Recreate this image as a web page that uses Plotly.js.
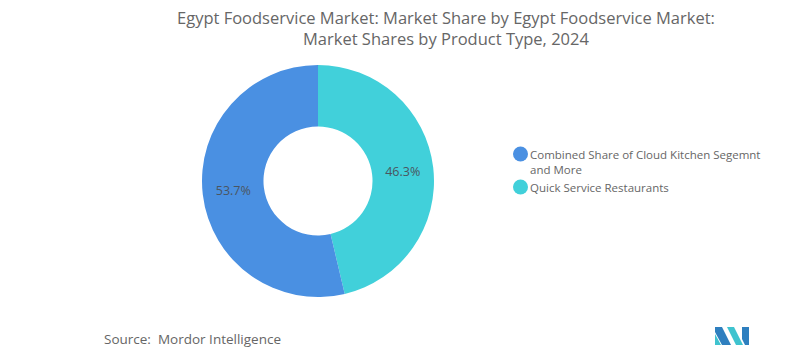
<!DOCTYPE html>
<html>
<head>
<meta charset="utf-8">
<script src="https://cdn.plot.ly/plotly-3.0.1.min.js"></script>
<style>html,body{margin:0;padding:0;background:#fff;}#chart{width:808px;height:361px;}</style>
</head>
<body>
<div id="chart"></div>
<script>
const categories = ["Combined Share of Cloud Kitchen Segemnt<br>and More", "Quick Service Restaurants"];
const values = [53.7, 46.3];
const colors = ["#4A90E2", "#41D0DA"];
const titleText = "Egypt Foodservice Market: Market Share by Egypt Foodservice Market:<br>Market Shares by Product Type, 2024";
const sourceText = "Source:  Mordor Intelligence";

const W = 808, H = 361;
const FONT = "'Open Sans', sans-serif";

// pie drawn with cyan first so it sits on the right going clockwise from 12 o'clock
const order = [1, 0];
const traces = [{
  type: "pie",
  labels: order.map(i => categories[i]),
  values: order.map(i => values[i]),
  marker: {colors: order.map(i => colors[i]), line: {width: 0}},
  hole: 0.47,
  sort: false,
  direction: "clockwise",
  rotation: 0,
  textinfo: "percent",
  texttemplate: "%{value:.1f}%",
  textposition: "inside",
  insidetextorientation: "horizontal",
  textfont: {family: FONT, size: 12.5, color: "#4a5560"},
  hoverinfo: "label+percent",
  showlegend: false,
  domain: {x: [202/W, 434/W], y: [1 - 297/H, 1 - 65/H]}
}];

const px = x => x / W, py = y => 1 - y / H;
function poly(pts) {
  return "M" + pts.map(p => px(p[0]) + "," + py(p[1])).join(" L") + " Z";
}

// manual legend (circle markers)
const legendY = [154, 187];
const shapes = [];
const annotations = [];
categories.forEach((c, i) => {
  const cy = legendY[i];
  shapes.push({type: "circle", xref: "paper", yref: "paper", line: {width: 0}, fillcolor: colors[i],
    x0: px(513), x1: px(528), y0: py(cy + 7.5), y1: py(cy - 7.5)});
  annotations.push({text: c, xref: "paper", yref: "paper", x: px(528), y: py(cy - 9),
    xanchor: "left", yanchor: "top", align: "left", showarrow: false,
    font: {family: FONT, size: 11.5, color: "#666"}});
});

annotations.push({
  text: titleText, xref: "paper", yref: "paper",
  x: px(446), y: py(4), xanchor: "center", yanchor: "top", align: "center",
  showarrow: false, font: {family: FONT, size: 16.5, color: "#666"}
});
annotations.push({
  text: sourceText, xref: "paper", yref: "paper",
  x: px(102), y: py(339), xanchor: "left", yanchor: "middle",
  showarrow: false, font: {family: FONT, size: 13.5, color: "#666"}
});

shapes.push(
  {type: "path", xref: "paper", yref: "paper", line: {width: 0}, fillcolor: "#2E7FBF",
   path: poly([[715,327],[722,327],[731,345],[722,345],[715,332]])},
  {type: "path", xref: "paper", yref: "paper", line: {width: 0}, fillcolor: "#3FC3CF",
   path: poly([[715,334],[721,345],[715,345]])},
  {type: "path", xref: "paper", yref: "paper", line: {width: 0}, fillcolor: "#3FC3CF",
   path: poly([[727,327],[734,327],[743,345],[736,345]])},
  {type: "path", xref: "paper", yref: "paper", line: {width: 0}, fillcolor: "#2E7FBF",
   path: poly([[742,327],[749,327],[749,345],[745,345],[742,339]])}
);

const layout = {
  width: W, height: H,
  margin: {l: 0, r: 0, t: 0, b: 0},
  paper_bgcolor: "#fff", plot_bgcolor: "#fff",
  font: {family: FONT, color: "#666"},
  showlegend: false,
  annotations: annotations,
  shapes: shapes
};

Plotly.newPlot("chart", traces, layout, {displayModeBar: false, staticPlot: true});
</script>
</body>
</html>
